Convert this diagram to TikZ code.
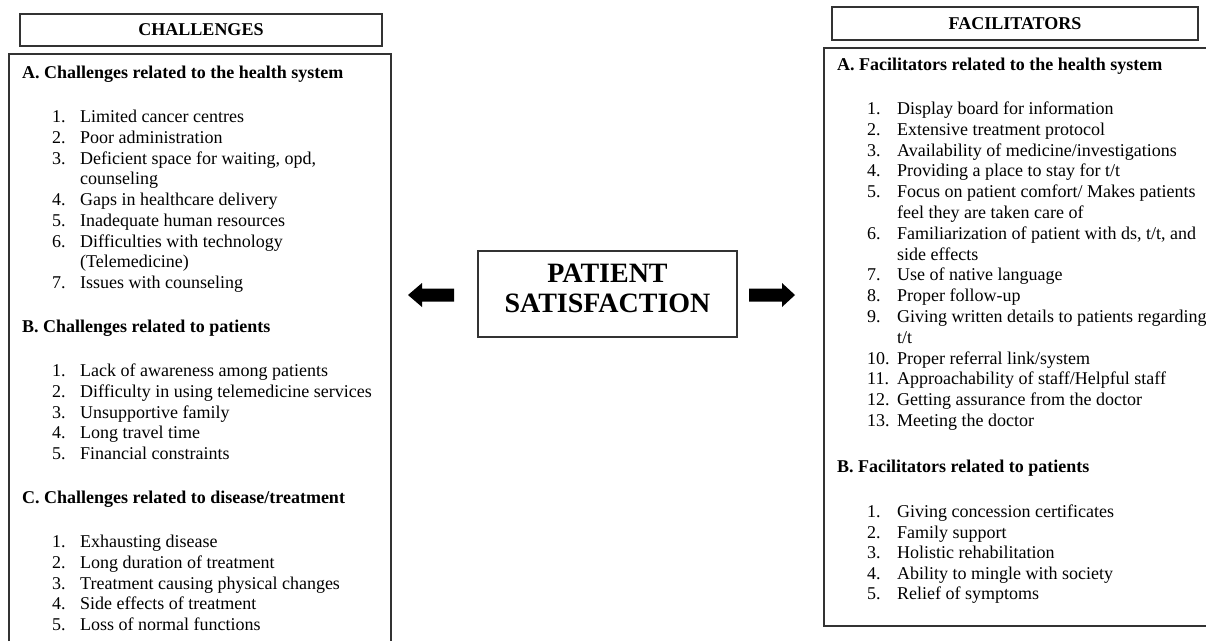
\documentclass[tikz,border=0pt]{standalone}
\usepackage{fontspec}
\setmainfont{Liberation Serif}
\tikzset{
  frame/.style={draw=black!80, line width=1.1pt},
  txt/.style={anchor=base west, inner sep=0pt, font=\fontsize{18}{20.75}\selectfont},
  hd/.style={txt, font=\fontsize{18}{20.75}\selectfont\bfseries},
  ttl/.style={frame, inner sep=0pt, font=\fontsize{18}{20.75}\selectfont\bfseries},
  blk/.style={fill=black, draw=none}
}
\begin{document}
\begin{tikzpicture}[x=1pt,y=-1pt]
\useasboundingbox (0,0) rectangle (1206,641);
% ---------- title boxes ----------
\node[ttl, minimum width=362, minimum height=32] (chT) at (201,30) {CHALLENGES};
\node[ttl, minimum width=366, minimum height=33] (faT) at (1015,23.5) {FACILITATORS};
% ---------- main frames ----------
\coordinate (lbl) at (9,641);
\coordinate (ltl) at (9,54);
\coordinate (ltr) at (391,54);
\coordinate (lbr) at (391,641);
\draw[frame] (lbl) -- (ltl) -- (ltr) -- (lbr);
\coordinate (rtr) at (1206,48);
\coordinate (rtl) at (824,48);
\coordinate (rbl) at (824,626);
\coordinate (rbr) at (1206,626);
\draw[frame] (rtr) -- (rtl) -- (rbl) -- (rbr);
% ---------- centre ----------
\node[frame, minimum width=259, minimum height=86, inner sep=0pt] (ps) at (607.5,294) {};
\node[inner sep=0pt, align=center, font=\fontsize{28}{30}\selectfont\bfseries] (pst) at (607.5,288) {PATIENT\\SATISFACTION};
\fill[blk] (408,295) -- (422,283) -- (422,288.5) -- (454,288.5) -- (454,301.5) -- (422,301.5) -- (422,307) -- cycle;
\fill[blk] (795,295) -- (782,283) -- (782,288.5) -- (749,288.5) -- (749,301.5) -- (782,301.5) -- (782,307) -- cycle;
% ---------- left column ----------
\node[hd] (lA) at (22,78.5) {A. Challenges related to the health system};
\node[txt] (lA1n) at (52,122.5) {1.};  \node[txt] (lA1) at (80,122.5) {Limited cancer centres};
\node[txt] (lA2n) at (52,143.25) {2.}; \node[txt] (lA2) at (80,143.25) {Poor administration};
\node[txt] (lA3n) at (52,164) {3.};    \node[txt] (lA3) at (80,164) {Deficient space for waiting, opd,};
\node[txt] (lA3b) at (80,184.75) {counseling};
\node[txt] (lA4n) at (52,205.5) {4.};  \node[txt] (lA4) at (80,205.5) {Gaps in healthcare delivery};
\node[txt] (lA5n) at (52,226.25) {5.}; \node[txt] (lA5) at (80,226.25) {Inadequate human resources};
\node[txt] (lA6n) at (52,247) {6.};    \node[txt] (lA6) at (80,247) {Difficulties with technology};
\node[txt] (lA6b) at (80,267.75) {(Telemedicine)};
\node[txt] (lA7n) at (52,288.5) {7.};  \node[txt] (lA7) at (80,288.5) {Issues with counseling};
\node[hd] (lB) at (22,332.5) {B. Challenges related to patients};
\node[txt] (lB1n) at (52,376.5) {1.};  \node[txt] (lB1) at (80,376.5) {Lack of awareness among patients};
\node[txt] (lB2n) at (52,397.25) {2.}; \node[txt] (lB2) at (80,397.25) {Difficulty in using telemedicine services};
\node[txt] (lB3n) at (52,418) {3.};    \node[txt] (lB3) at (80,418) {Unsupportive family};
\node[txt] (lB4n) at (52,438.75) {4.}; \node[txt] (lB4) at (80,438.75) {Long travel time};
\node[txt] (lB5n) at (52,459.5) {5.};  \node[txt] (lB5) at (80,459.5) {Financial constraints};
\node[hd] (lC) at (22,503.5) {C. Challenges related to disease/treatment};
\node[txt] (lC1n) at (52,547.5) {1.};  \node[txt] (lC1) at (80,547.5) {Exhausting disease};
\node[txt] (lC2n) at (52,568.25) {2.}; \node[txt] (lC2) at (80,568.25) {Long duration of treatment};
\node[txt] (lC3n) at (52,589) {3.};    \node[txt] (lC3) at (80,589) {Treatment causing physical changes};
\node[txt] (lC4n) at (52,609.75) {4.}; \node[txt] (lC4) at (80,609.75) {Side effects of treatment};
\node[txt] (lC5n) at (52,630.5) {5.};  \node[txt] (lC5) at (80,630.5) {Loss of normal functions};
% ---------- right column ----------
\node[hd] (rA) at (837,70.5) {A. Facilitators related to the health system};
\node[txt] (rA1n) at (867,114.5) {1.}; \node[txt] (rA1) at (897,114.5) {Display board for information};
\node[txt] (rA2n) at (867,135.3) {2.}; \node[txt] (rA2) at (897,135.3) {Extensive treatment protocol};
\node[txt] (rA3n) at (867,156.1) {3.}; \node[txt] (rA3) at (897,156.1) {Availability of medicine/investigations};
\node[txt] (rA4n) at (867,176.9) {4.}; \node[txt] (rA4) at (897,176.9) {Providing a place to stay for t/t};
\node[txt] (rA5n) at (867,197.7) {5.}; \node[txt] (rA5) at (897,197.7) {Focus on patient comfort/ Makes patients};
\node[txt] (rA5b) at (897,218.5) {feel they are taken care of};
\node[txt] (rA6n) at (867,239.3) {6.}; \node[txt] (rA6) at (897,239.3) {Familiarization of patient with ds, t/t, and};
\node[txt] (rA6b) at (897,260.1) {side effects};
\node[txt] (rA7n) at (867,280.9) {7.}; \node[txt] (rA7) at (897,280.9) {Use of native language};
\node[txt] (rA8n) at (867,301.7) {8.}; \node[txt] (rA8) at (897,301.7) {Proper follow-up};
\node[txt] (rA9n) at (867,322.5) {9.}; \node[txt] (rA9) at (897,322.5) {Giving written details to patients regarding};
\node[txt] (rA9b) at (897,343.3) {t/t};
\node[txt] (rA10n) at (867,364.1) {10.}; \node[txt] (rA10) at (897,364.1) {Proper referral link/system};
\node[txt] (rA11n) at (867,384.9) {11.}; \node[txt] (rA11) at (897,384.9) {Approachability of staff/Helpful staff};
\node[txt] (rA12n) at (867,405.7) {12.}; \node[txt] (rA12) at (897,405.7) {Getting assurance from the doctor};
\node[txt] (rA13n) at (867,426.5) {13.}; \node[txt] (rA13) at (897,426.5) {Meeting the doctor};
\node[hd] (rB) at (837,472.5) {B. Facilitators related to patients};
\node[txt] (rB1n) at (867,517.5) {1.}; \node[txt] (rB1) at (897,517.5) {Giving concession certificates};
\node[txt] (rB2n) at (867,538) {2.};   \node[txt] (rB2) at (897,538) {Family support};
\node[txt] (rB3n) at (867,558.5) {3.}; \node[txt] (rB3) at (897,558.5) {Holistic rehabilitation};
\node[txt] (rB4n) at (867,579) {4.};   \node[txt] (rB4) at (897,579) {Ability to mingle with society};
\node[txt] (rB5n) at (867,599.5) {5.}; \node[txt] (rB5) at (897,599.5) {Relief of symptoms};
\end{tikzpicture}
\end{document}
